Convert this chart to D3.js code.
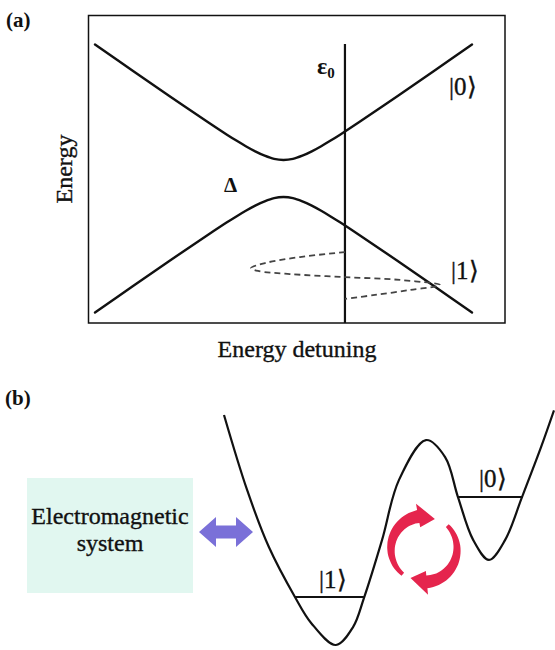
<!DOCTYPE html>
<html><head><meta charset="utf-8">
<script src="https://cdn.jsdelivr.net/npm/d3@7"></script>
<style>html,body{margin:0;padding:0;background:#fff}svg{display:block}text{font-family:"Liberation Serif","Times New Roman",serif}</style>
</head><body>
<script>
// ---------- Panel (a): avoided crossing ----------
const detuning    = [-1, -0.8, -0.6, -0.4, -0.3, -0.25, -0.2, -0.15, -0.1, -0.05, 0, 0.05, 0.1, 0.15, 0.2, 0.25, 0.3, 0.4, 0.6, 0.8, 1];
const upperEnergy = [1.0, 0.804, 0.61, 0.42, 0.327, 0.283, 0.241, 0.2025, 0.17, 0.146, 0.138, 0.146, 0.17, 0.2025, 0.241, 0.283, 0.327, 0.42, 0.61, 0.804, 1.0];
const lowerEnergy = upperEnergy.map(v => -v);
const epsilon0 = 0.326;
const spiralDetuning = [0.326, 0.088, -0.098, -0.172, -0.135, 0.034, 0.326, 0.618, 0.83, 0.671, 0.485, 0.326];
const spiralEnergy   = [-0.549, -0.586, -0.631, -0.668, -0.69, -0.713, -0.736, -0.757, -0.795, -0.832, -0.869, -0.899];
const labelsA = {state0: "|0\u27E9", state1: "|1\u27E9", gap: "\u0394", xTitle: "Energy detuning", yTitle: "Energy"};

// ---------- Panel (b): double-well potential ----------
const wellPosition  = [0, 0.70, 1.36, 2.15, 2.64, 3.39, 3.91, 4.24, 4.79, 5.30, 6.12, 6.70, 7.09, 7.55, 8.03, 8.52, 9.03, 9.61, 10.0];
const wellPotential = [10, 6.74, 4.26, 2.09, 0.96, 0, 0.78, 2.04, 4.57, 7.17, 8.91, 8.17, 6.43, 4.57, 3.70, 4.57, 6.43, 8.61, 10.2];
const levelNames = ["|1\u27E9", "|0\u27E9"];
const levelEnergy = [2.09, 6.43];
const levelFrom = [2.15, 7.09];
const levelTo = [4.24, 9.03];
const boxText = ["Electromagnetic", "system"];
const cycleStart = [-140, 45];   // degrees, clockwise from top
const cycleEnd = [20, 205];

const W = 555, H = 650;
const svg = d3.select("body").append("svg").attr("width", W).attr("height", H);
svg.append("rect").attr("width", W).attr("height", H).attr("fill", "#fff");
const txt = (g, x, y, s, size) => g.append("text").attr("x", x).attr("y", y).attr("font-size", size)
  .attr("fill", "#111").attr("stroke", "#111").attr("stroke-width", 0.35).text(s);

// ===== (a) =====
const xA = d3.scaleLinear().domain([-1, 1]).range([95, 472]);
const yA = d3.scaleLinear().domain([-1, 1]).range([312.5, 44.5]);
const gA = svg.append("g");
gA.append("rect").attr("x", 88.5).attr("y", 15.5).attr("width", 416.5).attr("height", 307.5)
  .attr("fill", "none").attr("stroke", "#111").attr("stroke-width", 1.5);

const lineA = d3.line().x(d => xA(d[0])).y(d => yA(d[1])).curve(d3.curveCatmullRom);
[upperEnergy, lowerEnergy].forEach(arr => {
  gA.append("path").attr("d", lineA(detuning.map((d, i) => [d, arr[i]])))
    .attr("fill", "none").attr("stroke", "#111").attr("stroke-width", 2.4).attr("stroke-linecap", "round");
});
gA.append("line").attr("x1", xA(epsilon0)).attr("x2", xA(epsilon0)).attr("y1", 44).attr("y2", 323)
  .attr("stroke", "#111").attr("stroke-width", 2.2);

gA.append("path").attr("d", lineA(spiralDetuning.map((d, i) => [d, spiralEnergy[i]])))
  .attr("fill", "none").attr("stroke", "#444").attr("stroke-width", 1.8).attr("stroke-dasharray", "6,4");

txt(gA, 6, 27, "(a)", 21).attr("font-weight", "bold").attr("stroke-width", 0);
txt(gA, 0, 0, labelsA.yTitle, 24).attr("transform", "translate(72,169) rotate(-90)").attr("text-anchor", "middle");
txt(gA, 297, 357, labelsA.xTitle, 24).attr("text-anchor", "middle");
const eps = txt(gA, 317, 74, "", 24).attr("font-weight", "bold").attr("stroke-width", 0);
eps.append("tspan").text("\u03B5");
eps.append("tspan").attr("font-size", 15).attr("dy", 4).text("0");
txt(gA, 449, 95, labelsA.state0, 25);
txt(gA, 451, 279, labelsA.state1, 25);
txt(gA, 224, 192, labelsA.gap, 21).attr("font-weight", "bold").attr("stroke-width", 0);

// ===== (b) =====
const xB = d3.scaleLinear().domain([0, 10]).range([224, 554]);
const yB = d3.scaleLinear().domain([0, 10]).range([645, 415]);
const gB = svg.append("g");
txt(gB, 5, 405, "(b)", 21).attr("font-weight", "bold").attr("stroke-width", 0);

gB.append("rect").attr("x", 27).attr("y", 478).attr("width", 166).attr("height", 115).attr("fill", "#e1f7f0");
boxText.forEach((t, i) => {
  txt(gB, 110, 524 + i * 27, t, 24).attr("text-anchor", "middle");
});

// double-headed arrow
const ax0 = 199, ax1 = 253, ay = 532, hl = 17, hh = 15, sh = 6.5;
gB.append("path").attr("d", `M${ax0},${ay} L${ax0 + hl},${ay - hh} L${ax0 + hl},${ay - sh} L${ax1 - hl},${ay - sh} L${ax1 - hl},${ay - hh} L${ax1},${ay} L${ax1 - hl},${ay + hh} L${ax1 - hl},${ay + sh} L${ax0 + hl},${ay + sh} L${ax0 + hl},${ay + hh} Z`)
  .attr("fill", "#7a70d8");

const wellLine = d3.line().x(d => xB(d[0])).y(d => yB(d[1])).curve(d3.curveCatmullRom);
gB.append("path").attr("d", wellLine(wellPosition.map((q, i) => [q, wellPotential[i]])))
  .attr("fill", "none").attr("stroke", "#111").attr("stroke-width", 2.2);

levelEnergy.forEach((e, i) => {
  gB.append("line").attr("x1", xB(levelFrom[i])).attr("x2", xB(levelTo[i]))
    .attr("y1", yB(e)).attr("y2", yB(e)).attr("stroke", "#111").attr("stroke-width", 2);
});
txt(gB, 319, 588, levelNames[0], 25);
txt(gB, 479, 487, levelNames[1], 25);

// red circular arrows
const cx = 424, cy = 549, R = 33;
const toRad = d => d * Math.PI / 180;
const pol = (a, r) => [cx + r * Math.sin(toRad(a)), cy - r * Math.cos(toRad(a))];
cycleStart.forEach((a0, k) => {
  const a1 = cycleEnd[k];
  const headDeg = 30;
  const aH = a1 - headDeg;
  const n = 30, outer = [], inner = [];
  for (let i = 0; i <= n; i++) {
    const a = a0 + (aH - a0) * i / n;
    const w = 2 + 4.5 * i / n;
    outer.push(pol(a, R + w));
    inner.push(pol(a, R - w));
  }
  const pts = outer.concat([pol(aH, R + 13), pol(a1, R - 1), pol(aH, R - 11)], inner.reverse());
  gB.append("path").attr("d", "M" + pts.map(p => p[0].toFixed(1) + "," + p[1].toFixed(1)).join("L") + "Z")
    .attr("fill", "#e5254d");
});
</script>
</body></html>
